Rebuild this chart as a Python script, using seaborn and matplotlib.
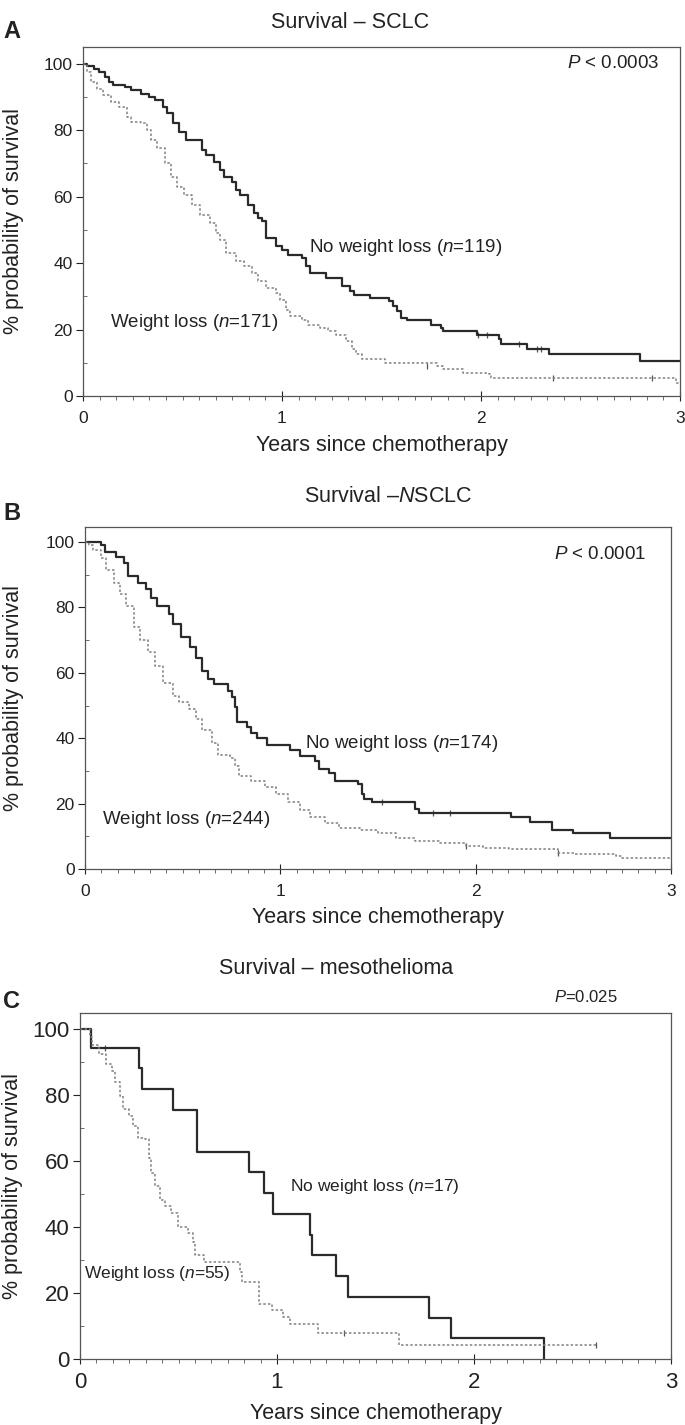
import matplotlib
matplotlib.use("Agg")
import matplotlib.pyplot as plt
from matplotlib.ticker import MultipleLocator
import seaborn as sns

# ---- Panel A: SCLC (Kaplan-Meier steps) ----
sclc_nwl_t = [0.00, 0.02, 0.055, 0.08, 0.11, 0.13, 0.15, 0.21, 0.24, 0.29,
              0.33, 0.36, 0.40, 0.42, 0.45, 0.48, 0.52, 0.60, 0.62, 0.66,
              0.69, 0.71, 0.75, 0.77, 0.79, 0.83, 0.86, 0.88, 0.90, 0.92,
              0.97, 1.00, 1.03, 1.10, 1.12, 1.14, 1.22, 1.30, 1.34, 1.36,
              1.44, 1.54, 1.56, 1.58, 1.60, 1.63, 1.75, 1.80, 1.81, 1.98,
              2.09, 2.10, 2.23, 2.34, 2.80, 3.00]
sclc_nwl_s = [100, 99.2, 98.5, 97.5, 96, 94.5, 93.5, 93, 92, 91,
              90, 89, 87, 85, 82, 79.5, 77, 74, 72.5, 70.5,
              68, 66, 64.5, 62, 60.5, 57.5, 55, 53.5, 52.5, 47.5,
              45, 44, 42.5, 41.5, 39, 37, 35.5, 33, 31.5, 30.5,
              29.5, 28.5, 27, 25.5, 23.5, 23, 21.5, 20.5, 19.5, 18.5,
              17, 15.5, 14, 12.5, 10.5, 10.5]
sclc_wl_t = [0.00, 0.02, 0.04, 0.07, 0.10, 0.14, 0.18, 0.22, 0.24, 0.29,
             0.32, 0.34, 0.37, 0.41, 0.44, 0.47, 0.51, 0.55, 0.59, 0.64,
             0.67, 0.69, 0.72, 0.77, 0.81, 0.85, 0.88, 0.92, 0.97, 0.99,
             1.02, 1.04, 1.10, 1.13, 1.19, 1.23, 1.27, 1.32, 1.35, 1.37,
             1.40, 1.52, 1.78, 1.81, 1.91, 2.04, 2.05, 2.98, 3.00]
sclc_wl_s = [100, 97.5, 94.5, 92.5, 90.5, 88.5, 87, 84, 82.5, 82,
             80, 77, 74.5, 70, 66, 63, 60.5, 57.5, 54.5, 52,
             49, 47, 43, 40.5, 39, 37, 34.5, 32.5, 31, 29,
             26, 24, 23, 21.5, 20.5, 19.5, 18.5, 16.5, 14, 12.5,
             11, 10, 9, 8, 7, 6.5, 5.5, 4, 4]
sclc_cens_t = [1.985, 2.03, 2.19, 2.28, 2.30, 1.73, 2.36, 2.86]
sclc_cens_s = [18.5, 18.5, 15.5, 14, 14, 9, 5.5, 5.5]

# ---- Panel B: NSCLC ----
nsclc_nwl_t = [0.00, 0.08, 0.10, 0.16, 0.20, 0.22, 0.27, 0.31, 0.34, 0.37,
               0.43, 0.45, 0.49, 0.54, 0.57, 0.60, 0.63, 0.66, 0.73, 0.75,
               0.77, 0.78, 0.83, 0.85, 0.88, 0.93, 1.05, 1.10, 1.18, 1.20,
               1.25, 1.28, 1.40, 1.42, 1.43, 1.47, 1.69, 1.71, 2.18, 2.28,
               2.39, 2.50, 2.69, 3.00]
nsclc_nwl_s = [100, 99, 97, 95.5, 93.5, 89.5, 87.5, 85.5, 83, 80.5,
               78, 75, 71, 68, 64.5, 60.5, 58, 56.5, 54.5, 52.5,
               49.5, 45, 43.5, 41.5, 40, 38, 36.5, 34.5, 33, 30.5,
               29.5, 27, 26, 23, 21.5, 20.5, 18.5, 17, 16, 14.5,
               12, 11, 9.5, 9.5]
nsclc_wl_t = [0.00, 0.02, 0.04, 0.08, 0.11, 0.15, 0.18, 0.21, 0.25, 0.28,
              0.32, 0.36, 0.40, 0.45, 0.48, 0.53, 0.57, 0.60, 0.65, 0.68,
              0.74, 0.77, 0.79, 0.85, 0.92, 0.98, 1.04, 1.10, 1.15, 1.23,
              1.30, 1.41, 1.50, 1.59, 1.69, 1.81, 1.95, 2.04, 2.17, 2.42,
              2.51, 2.72, 2.75, 3.00]
nsclc_wl_s = [100, 99, 97.5, 95, 91.5, 87.5, 84, 80.5, 74, 70,
              66.5, 62, 57, 53, 51, 49, 46, 42.5, 38.5, 35,
              34, 31.5, 28.5, 27, 25, 23, 20.5, 18, 16, 14,
              12.5, 12, 11, 9.5, 8.5, 8, 7, 6.5, 6, 5,
              4.5, 4, 3.5, 3.5]
nsclc_cens_t = [1.52, 1.78, 1.87, 1.95, 2.42]
nsclc_cens_s = [20.5, 17, 17, 7, 5]

# ---- Panel C: mesothelioma ----
meso_nwl_t = [0, 0.054, 0.30, 0.317, 0.47, 0.594, 0.86, 0.933, 0.98, 1.165,
              1.18, 1.30, 1.36, 1.77, 1.884, 2.355]
meso_nwl_s = [100, 94.1, 88.2, 81.9, 75.3, 62.8, 56.5, 50.3, 43.9, 37.6,
              31.4, 25.1, 18.8, 12.5, 6.3, 0]
meso_wl_t = [0, 0.05, 0.06, 0.094, 0.13, 0.16, 0.18, 0.205, 0.22, 0.25,
             0.27, 0.295, 0.33, 0.35, 0.36, 0.38, 0.406, 0.43, 0.46, 0.495,
             0.55, 0.574, 0.585, 0.63, 0.81, 0.82, 0.91, 0.975, 1.03, 1.065,
             1.21, 1.62, 2.62]
meso_wl_s = [100, 97.5, 95, 92.4, 89.3, 87.3, 83.8, 79.7, 75.6, 73.6,
             70.6, 67, 66.5, 60.9, 56.3, 52.3, 48.2, 46.2, 44.2, 40.1,
             38.1, 35.5, 31.5, 29.4, 26.4, 23.4, 16.8, 14.7, 12.7, 10.7,
             7.8, 4.1, 4.1]
meso_cens_t = [0.127, 1.34, 2.62]
meso_cens_s = [94.1, 7.8, 4.1]

sns.set_theme(style="ticks")
plt.rcParams['font.family'] = ['Liberation Sans', 'DejaVu Sans']
plt.rcParams['mathtext.fontset'] = 'custom'
plt.rcParams['mathtext.rm'] = 'Liberation Sans'
plt.rcParams['mathtext.it'] = 'Liberation Sans:italic'

SOLID = '#2a2a2a'
DOTTED = '#808080'
W, H = 685, 1425

fig = plt.figure(figsize=(W / 100, H / 100), dpi=100)

panels = [
    dict(box=(83, 47, 680, 396), ytop=105.0, letter='A', letter_y=32,
         title='Survival – SCLC', title_xy=(350, 22),
         nwl=(sclc_nwl_t, sclc_nwl_s), wl=(sclc_wl_t, sclc_wl_s),
         cens=(sclc_cens_t, sclc_cens_s),
         nwl_txt='No weight loss ($n$=119)', nwl_xy=(1.138, 44.8),
         wl_txt='Weight loss ($n$=171)', wl_xy=(0.136, 22.2),
         p_txt='$P$ < 0.0003', p_xy=(2.894, 100), p_size=13.5,
         tick_size=12.5, xpad=7, ann_size=13.5, ylab_x=14, xlab_y=445),
    dict(box=(85, 527, 671, 869), ytop=104.6, letter='B', letter_y=513,
         title='Survival –$N$SCLC', title_xy=(388, 497),
         nwl=(nsclc_nwl_t, nsclc_nwl_s), wl=(nsclc_wl_t, nsclc_wl_s),
         cens=(nsclc_cens_t, nsclc_cens_s),
         nwl_txt='No weight loss ($n$=174)', nwl_xy=(1.124, 38.4),
         wl_txt='Weight loss ($n$=244)', wl_xy=(0.087, 15.2),
         p_txt='$P$ < 0.0001', p_xy=(2.872, 96.3), p_size=13.5,
         tick_size=12.5, xpad=7, ann_size=13.5, ylab_x=14, xlab_y=917),
    dict(box=(80, 1013, 671, 1359), ytop=104.8, letter='C', letter_y=1002,
         title='Survival – mesothelioma', title_xy=(336, 968),
         nwl=(meso_nwl_t, meso_nwl_s), wl=(meso_wl_t, meso_wl_s),
         cens=(meso_cens_t, meso_cens_s),
         nwl_txt='No weight loss ($n$=17)', nwl_xy=(1.066, 52.4),
         wl_txt='Weight loss ($n$=55)', wl_xy=(0.02, 26.0),
         p_txt='$P$=0.025', p_xy=(2.73, 109.7), p_size=12,
         tick_size=16, xpad=6, ann_size=12.5, ylab_x=13, xlab_y=1413),
]

for p in panels:
    x0, y0, x1, y1 = p['box']
    ax = fig.add_axes([x0 / W, 1 - y1 / H, (x1 - x0) / W, (y1 - y0) / H])

    # survival curves as post-steps
    sns.lineplot(x=p['nwl'][0], y=p['nwl'][1], ax=ax, color=SOLID, lw=1.6,
                 drawstyle='steps-post', estimator=None, sort=False)
    sns.lineplot(x=p['wl'][0], y=p['wl'][1], ax=ax, color=DOTTED, lw=1.1,
                 drawstyle='steps-post', estimator=None, sort=False,
                 linestyle=(0, (1.6, 1.4)))
    sns.scatterplot(x=p['cens'][0], y=p['cens'][1], ax=ax, marker='|',
                    s=25, color='#555555', linewidth=0.9)

    ax.set_xlim(0, 3)
    ax.set_ylim(0, p['ytop'])
    ax.set_xticks([0, 1, 2, 3])
    ax.set_yticks([0, 20, 40, 60, 80, 100])
    ax.xaxis.set_minor_locator(MultipleLocator(1 / 12))
    ax.yaxis.set_minor_locator(MultipleLocator(10))
    ax.tick_params(axis='y', which='major', direction='out', length=5,
                   width=0.8, pad=2.5, labelsize=p['tick_size'], colors='#222222')
    ax.tick_params(axis='y', which='minor', direction='in', length=3, width=0.6,
                   color='#555555')
    ax.tick_params(axis='x', which='major', direction='inout', length=7,
                   width=0.8, pad=p['xpad'], labelsize=p['tick_size'], colors='#222222')
    ax.tick_params(axis='x', which='minor', direction='out', length=3, width=0.6,
                   color='#555555')
    for sp in ax.spines.values():
        sp.set_visible(True)
        sp.set_color('#555555')
        sp.set_linewidth(0.9)

    ax.set_xlabel('Years since chemotherapy', fontsize=15.5, color='#222222')
    ax.set_ylabel('% probability of survival', fontsize=15.5, color='#222222')
    ax.xaxis.label.set_va('center')
    ax.yaxis.label.set_va('center')
    ax.xaxis.set_label_coords(0.5, (y1 - p['xlab_y']) / (y1 - y0))
    ax.yaxis.set_label_coords((p['ylab_x'] - x0) / (x1 - x0), 0.5)

    ax.text(*p['nwl_xy'], p['nwl_txt'], fontsize=p['ann_size'], ha='left',
            va='center', color='#222222')
    ax.text(*p['wl_xy'], p['wl_txt'], fontsize=p['ann_size'], ha='left',
            va='center', color='#222222')
    ax.text(*p['p_xy'], p['p_txt'], fontsize=p['p_size'], ha='right',
            va='center', color='#222222', clip_on=False)

    fig.text(p['title_xy'][0] / W, 1 - p['title_xy'][1] / H, p['title'],
             ha='center', va='center', fontsize=15.5, color='#222222')
    fig.text(3 / W, 1 - p['letter_y'] / H, p['letter'], ha='left', va='center',
             fontsize=17, fontweight='bold', color='#222222')

fig.savefig('out.png', dpi=100)
